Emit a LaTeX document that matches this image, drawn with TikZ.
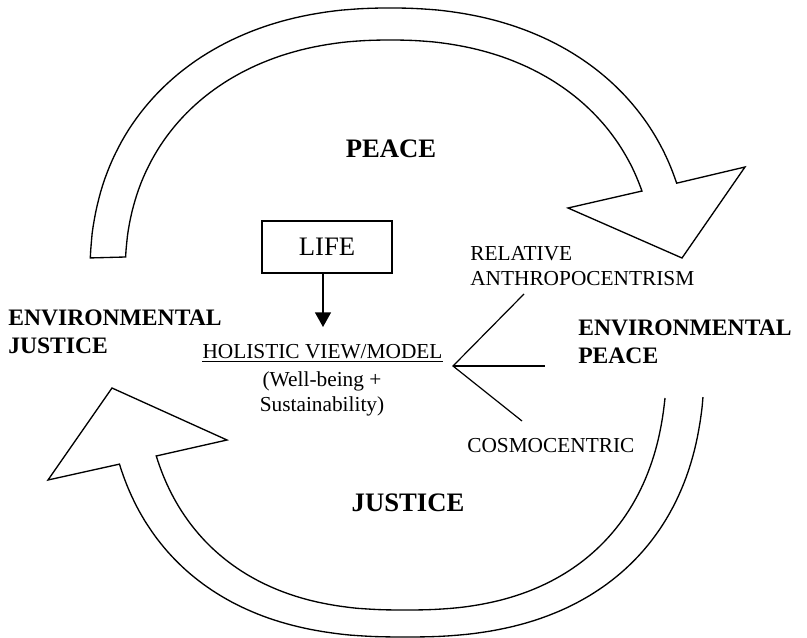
\documentclass[tikz,border=0pt]{standalone}
\usepackage{fontspec}
\setmainfont{Liberation Serif}
\usetikzlibrary{arrows.meta}
\begin{document}
\begin{tikzpicture}[x=0.75pt,y=-0.75pt,
  blockarrow/.style={draw=black, line width=1pt, fill=white, line join=miter},
  txt/.style={inner sep=0pt, font=\fontsize{16}{19}\selectfont},
  bigtxt/.style={inner sep=0pt, font=\fontsize{20}{24}\selectfont\bfseries},
  envtxt/.style={inner sep=0pt, font=\fontsize{17.7}{21}\selectfont\bfseries},
  thinline/.style={line width=0.9pt}]
\useasboundingbox (0,0) rectangle (807,638);

% top block arrow
\draw[blockarrow]
  plot[domain=2.78:89.9, samples=60] ({390-300*pow(cos(\x),0.909)}, {275-267*pow(sin(\x),0.909)})
  -- plot[domain=89.9:18, samples=60] ({390+300*pow(cos(\x),0.909)}, {275-267*pow(sin(\x),0.909)})
  -- (745,167) -- (682,258) -- (568,208)
  -- plot[domain=18.8:89.9, samples=60] ({390+264.8*pow(cos(\x),0.909)}, {275-235*pow(sin(\x),0.909)})
  -- plot[domain=89.9:3.4, samples=60] ({390-264.8*pow(cos(\x),0.909)}, {275-235*pow(sin(\x),0.909)})
  -- cycle;

% bottom block arrow (open tail)
\draw[blockarrow]
  plot[domain=6.55:89.9, samples=60] ({405+299.6*pow(cos(\x),0.833)}, {350+287*pow(sin(\x),0.833)})
  -- plot[domain=89.9:19.3, samples=60] ({405-299.6*pow(cos(\x),0.833)}, {350+287*pow(sin(\x),0.833)})
  -- (48,480) -- (112,388) -- (227,440)
  -- plot[domain=19.9:89.9, samples=60] ({405-261.8*pow(cos(\x),0.833)}, {350+260*pow(sin(\x),0.833)})
  -- plot[domain=89.9:7.38, samples=60] ({405+261.8*pow(cos(\x),0.833)}, {350+260*pow(sin(\x),0.833)});

% texts
\node[bigtxt, anchor=base] (peace) at (391,158) {PEACE};
\node[bigtxt, anchor=base] (justice) at (408,511) {JUSTICE};
\node[draw, line width=1pt, minimum width=97.5pt, minimum height=39pt, inner sep=0pt,
      font=\fontsize{20}{24}\selectfont] (life) at (327,247) {LIFE};
\node[txt, anchor=base] (hv) at (322.5,358) {HOLISTIC VIEW/MODEL};
\draw[line width=0.7pt] ([yshift=-2.5pt]hv.base west) -- ([yshift=-2.5pt]hv.base east);
\node[txt, anchor=base] (wb) at (322,386) {(Well-being +};
\node[txt, anchor=base] (sus) at (322,411) {Sustainability)};
\node[txt, anchor=base west] (rel) at (470,261) {RELATIVE};
\node[txt, anchor=base west] (anth) at (470,286) {ANTHROPOCENTRISM};
\node[envtxt, anchor=base west] (envp1) at (578,335) {ENVIRONMENTAL};
\node[envtxt, anchor=base west] (envp2) at (578,363) {PEACE};
\node[txt, anchor=base west] (cosmo) at (467,452) {COSMOCENTRIC};
\node[envtxt, anchor=base west] (envj1) at (8,325) {ENVIRONMENTAL};
\node[envtxt, anchor=base west] (envj2) at (8,353) {JUSTICE};

% arrow LIFE -> holistic view
\coordinate (hvtop) at (323,327);
\draw[line width=1pt, -{Triangle[length=11pt,width=12pt]}] (hvtop |- life.south) -- (hvtop);

% fork lines
\coordinate (v) at (453,366);
\coordinate (ra) at (524,294);
\coordinate (ep) at (545,366);
\coordinate (cc) at (522,421);
\draw[thinline] (ra) -- (v) -- (cc);
\draw[thinline] (v) -- (ep);
\end{tikzpicture}
\end{document}
